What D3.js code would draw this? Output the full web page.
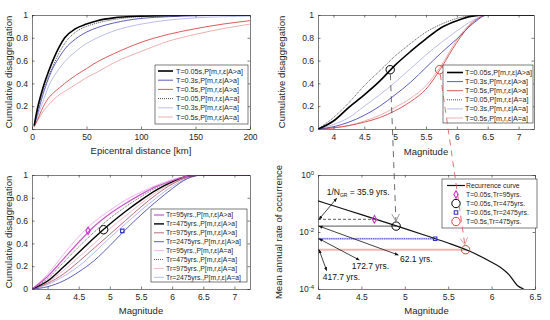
<!DOCTYPE html>
<html>
<head>
<meta charset="utf-8">
<script src="https://cdn.jsdelivr.net/npm/d3@7"></script>
<style>
  body { margin: 0; background: #fff; }
  svg { display: block; font-family: "Liberation Sans", Arial, Helvetica, sans-serif; }
</style>
</head>
<body>
<svg id="fig" width="550" height="320"></svg>
<script>
/* ---------- data: distance disaggregation (top left) ---------- */
const distKm   = [2, 5, 10, 15, 20, 25, 30, 40, 50, 60, 75, 100, 125, 150, 175, 200];
const dT005Exc = [0.03, 0.18, 0.36, 0.50, 0.62, 0.72, 0.80, 0.88, 0.92, 0.95, 0.975, 0.99, 0.995, 1, 1, 1];
const dT03Exc  = [0.03, 0.13, 0.30, 0.44, 0.55, 0.63, 0.70, 0.79, 0.85, 0.89, 0.93, 0.97, 0.985, 0.993, 0.997, 1];
const dT05Exc  = [0.02, 0.08, 0.19, 0.27, 0.32, 0.36, 0.40, 0.47, 0.53, 0.59, 0.66, 0.76, 0.83, 0.88, 0.92, 0.95];
const dT005Eq  = [0.03, 0.16, 0.33, 0.46, 0.57, 0.67, 0.75, 0.85, 0.90, 0.93, 0.96, 0.985, 0.993, 0.997, 1, 1];
const dT03Eq   = [0.03, 0.11, 0.24, 0.37, 0.46, 0.53, 0.59, 0.68, 0.75, 0.80, 0.86, 0.92, 0.955, 0.975, 0.985, 0.99];
const dT05Eq   = [0.02, 0.07, 0.15, 0.21, 0.26, 0.30, 0.33, 0.39, 0.45, 0.50, 0.58, 0.68, 0.77, 0.83, 0.88, 0.92];

/* ---------- data: magnitude disaggregation by period (top right) ---------- */
const mags     = [3.75, 4, 4.25, 4.5, 4.75, 5, 5.25, 5.5, 5.75, 6, 6.25, 6.5, 7.25];
const mT005Exc = [0, 0.07, 0.19, 0.30, 0.42, 0.56, 0.68, 0.79, 0.89, 0.95, 0.99, 1, 1];
const mT03Exc  = [0, 0.02, 0.06, 0.12, 0.20, 0.30, 0.41, 0.54, 0.67, 0.79, 0.92, 1, 1];
const mT05Exc  = [0, 0.01, 0.03, 0.06, 0.10, 0.16, 0.24, 0.35, 0.54, 0.76, 0.93, 1, 1];
const mT005Eq  = [0, 0.10, 0.23, 0.38, 0.51, 0.64, 0.75, 0.85, 0.92, 0.97, 0.995, 1, 1];
const mT03Eq   = [0, 0.04, 0.10, 0.20, 0.30, 0.41, 0.53, 0.65, 0.76, 0.86, 0.95, 1, 1];
const mT05Eq   = [0, 0.01, 0.03, 0.07, 0.12, 0.19, 0.27, 0.38, 0.56, 0.78, 0.94, 1, 1];
const periodLabels = ["T=0.05s,P[m,r,ε|A>a]", "T=0.3s,P[m,r,ε|A>a]", "T=0.5s,P[m,r,ε|A>a]",
                      "T=0.05,P[m,r,ε|A=a]", "T=0.3s,P[m,r,ε|A=a]", "T=0.5s,P[m,r,ε|A=a]"];
const topMarkMag = [4.92, 5.72];
const topMarkP   = [0.52, 0.52];

/* ---------- data: magnitude disaggregation by return period (bottom left) ---------- */
const tr95Exc   = [0, 0.11, 0.26, 0.41, 0.55, 0.66, 0.75, 0.83, 0.90, 0.95, 0.99, 1, 1];
const tr475Exc  = [0, 0.07, 0.19, 0.32, 0.45, 0.57, 0.68, 0.78, 0.87, 0.94, 0.99, 1, 1];
const tr975Exc  = [0, 0.05, 0.13, 0.24, 0.36, 0.48, 0.60, 0.72, 0.83, 0.92, 0.98, 1, 1];
const tr2475Exc = [0, 0.02, 0.07, 0.15, 0.25, 0.38, 0.52, 0.65, 0.77, 0.88, 0.97, 1, 1];
const tr95Eq    = [0, 0.13, 0.30, 0.46, 0.59, 0.69, 0.78, 0.85, 0.91, 0.96, 0.99, 1, 1];
const tr475Eq   = [0, 0.09, 0.23, 0.37, 0.50, 0.62, 0.72, 0.81, 0.89, 0.95, 0.99, 1, 1];
const tr975Eq   = [0, 0.06, 0.16, 0.28, 0.40, 0.53, 0.64, 0.75, 0.85, 0.93, 0.98, 1, 1];
const tr2475Eq  = [0, 0.04, 0.11, 0.20, 0.32, 0.45, 0.57, 0.69, 0.80, 0.90, 0.97, 1, 1];
const trLabels = ["Tr=95yrs.,P[m,r,ε|A>a]", "Tr=475yrs.,P[m,r,ε|A>a]", "Tr=975yrs.,P[m,r,ε|A>a]", "Tr=2475yrs.,P[m,r,ε|A>a]",
                  "Tr=95yrs.,P[m,r,ε|A=a]", "Tr=475yrs.,P[m,r,ε|A=a]", "Tr=975yrs.,P[m,r,ε|A=a]", "Tr=2475yrs.,P[m,r,ε|A=a]"];
const trMarkMag = [4.65, 4.9, 5.2];
const trMarkP   = [0.51, 0.52, 0.51];

/* ---------- data: recurrence curve (bottom right) ---------- */
const recurMag  = [4.0, 4.25, 4.5, 4.75, 5.0, 5.25, 5.5, 5.75, 6.0, 6.1, 6.2, 6.3, 6.37];
const recurRate = [0.123, 0.0707, 0.0407, 0.0232, 0.0132, 0.0074, 0.0041, 0.0021, 0.00087, 0.00058, 0.00032, 0.00013, 0.0001];
const hazMag    = [4.65, 4.9, 5.35, 5.7];
const hazYears  = [35.9, 62.1, 172.7, 417.7];
const hazLabels = ["Recurrence curve", "T=0.05s,Tr=95yrs.", "T=0.05s,Tr=475yrs.", "T=0.05s,Tr=2475yrs.", "T=0.5s,Tr=475yrs."];

/* ---------- layout ---------- */
const INK = "#262626";
const FONT = '"Liberation Sans", Arial, Helvetica, sans-serif';
const svg = d3.select("#fig");
const defs = svg.append("defs");

const P1 = {l: 32,  r: 250, t: 15,  b: 129};
const P2 = {l: 318, r: 534, t: 15,  b: 129};
const P3 = {l: 32,  r: 250, t: 175, b: 289};
const P4 = {l: 318, r: 535, t: 175, b: 289};

const x1 = d3.scaleLinear().domain([0, 200]).range([P1.l, P1.r]);
const y1 = d3.scaleLinear().domain([0, 1]).range([P1.b, P1.t]);
const x2 = d3.scaleLinear().domain([3.75, 7.25]).range([P2.l, P2.r]);
const y2 = d3.scaleLinear().domain([0, 1]).range([P2.b, P2.t]);
const x3 = d3.scaleLinear().domain([3.75, 7.25]).range([P3.l, P3.r]);
const y3 = d3.scaleLinear().domain([0, 1]).range([P3.b, P3.t]);
const x4 = d3.scaleLinear().domain([4, 6.5]).range([P4.l, P4.r]);
const y4 = d3.scaleLog().domain([1e-4, 1]).range([P4.b, P4.t]);

// arrow head for annotations
defs.append("marker").attr("id", "ah").attr("viewBox", "0 0 10 10")
  .attr("refX", 9).attr("refY", 5).attr("markerWidth", 5).attr("markerHeight", 5)
  .attr("orient", "auto-start-reverse")
  .append("path").attr("d", "M0,1 L10,5 L0,9 z").attr("fill", "#111");

function panel(id, P) {
  defs.append("clipPath").attr("id", id).append("rect")
    .attr("x", P.l).attr("y", P.t).attr("width", P.r - P.l).attr("height", P.b - P.t);
  const g = svg.append("g");
  g.append("rect").attr("x", P.l).attr("y", P.t).attr("width", P.r - P.l).attr("height", P.b - P.t)
    .attr("fill", "#fff");
  const plot = g.append("g").attr("clip-path", `url(#${id})`);
  return {g, plot};
}

function axes(g, P, x, y, xTicks, yTicks, xFmt, yFmt) {
  const style = (a, keepText) => {
    a.attr("font-family", FONT).attr("font-size", 8.5);
    a.select(".domain").attr("stroke", INK).attr("stroke-width", 0.6);
    a.selectAll(".tick line").attr("stroke", INK).attr("stroke-width", 0.6);
    a.selectAll(".tick text").attr("fill", INK);
    if (!keepText) a.selectAll(".tick text").remove();
    return a;
  };
  style(g.append("g").attr("transform", `translate(0,${P.b})`)
    .call(d3.axisBottom(x).tickValues(xTicks).tickFormat(xFmt).tickSizeInner(-2.5).tickSizeOuter(0).tickPadding(5)), true);
  style(g.append("g").attr("transform", `translate(0,${P.t})`)
    .call(d3.axisTop(x).tickValues(xTicks).tickSizeInner(-2.5).tickSizeOuter(0)), false);
  const left = style(g.append("g").attr("transform", `translate(${P.l},0)`)
    .call(d3.axisLeft(y).tickValues(yTicks).tickFormat(yFmt).tickSizeInner(-2.5).tickSizeOuter(0).tickPadding(4)), true);
  style(g.append("g").attr("transform", `translate(${P.r},0)`)
    .call(d3.axisRight(y).tickValues(yTicks).tickSizeInner(-2.5).tickSizeOuter(0)), false);
  return left;
}

function labels(g, P, xText, yText, xBase, yCx) {
  g.append("text").attr("x", (P.l + P.r) / 2).attr("y", xBase).attr("text-anchor", "middle")
    .attr("font-size", 9.5).attr("fill", INK).text(xText);
  g.append("text").attr("transform", `translate(${yCx},${(P.t + P.b) / 2}) rotate(-90)`)
    .attr("text-anchor", "middle").attr("dy", "0.35em")
    .attr("font-size", 9.5).attr("fill", INK).text(yText);
}

function curve(plot, x, y, xs, ys, st) {
  plot.append("path").datum(d3.zip(xs, ys))
    .attr("d", d3.line().x(d => x(d[0])).y(d => y(d[1])).curve(d3.curveMonotoneX))
    .attr("fill", "none").attr("stroke", st.c).attr("stroke-width", st.w)
    .attr("stroke-dasharray", st.d || null);
}

function symbol(g, kind, cx, cy, color) {
  if (kind === "circle") {
    g.append("circle").attr("cx", cx).attr("cy", cy).attr("r", 4.2)
      .attr("fill", "none").attr("stroke", color).attr("stroke-width", 1);
  } else {
    const t = kind === "diamond" ? d3.symbolDiamond : d3.symbolSquare;
    g.append("path").attr("transform", `translate(${cx},${cy})`)
      .attr("d", d3.symbol(t, kind === "diamond" ? 16 : 12)())
      .attr("fill", "none").attr("stroke", color).attr("stroke-width", 1.1);
  }
}

function legend(g, box, items, o) {
  g.append("rect").attr("x", box[0]).attr("y", box[1])
    .attr("width", box[2] - box[0]).attr("height", box[3] - box[1])
    .attr("fill", "#fff").attr("stroke", INK).attr("stroke-width", 0.6);
  items.forEach((it, i) => {
    const yy = o.y0 + i * o.dy;
    if (it.sym) symbol(g, it.sym, (o.lx0 + o.lx1) / 2, yy, it.c);
    else g.append("line").attr("x1", o.lx0).attr("x2", o.lx1).attr("y1", yy).attr("y2", yy)
      .attr("stroke", it.c).attr("stroke-width", it.w).attr("stroke-dasharray", it.d || null);
    g.append("text").attr("x", o.tx).attr("y", yy).attr("dy", "0.35em")
      .attr("font-size", o.fs).attr("fill", INK).text(it.label);
  });
}

const periodStyles = [
  {c: "#000000", w: 1.6}, {c: "#4b4bb4", w: 0.9}, {c: "#d64848", w: 0.9},
  {c: "#222222", w: 0.8, d: "1,1"}, {c: "#b4b4ea", w: 0.9}, {c: "#eeb0b0", w: 1}
];
const yTicks01 = [0, 0.2, 0.4, 0.6, 0.8, 1];
const fmt01 = d => d === 0 || d === 1 ? String(d) : d.toFixed(1);
const magTicks = [4, 4.5, 5, 5.5, 6, 6.5, 7];

/* ---------- panel 1: epicentral distance ---------- */
{
  const {g, plot} = panel("c1", P1);
  const ser = [dT005Exc, dT03Exc, dT05Exc, dT005Eq, dT03Eq, dT05Eq];
  [5, 4, 3, 2, 1, 0].forEach(i => curve(plot, x1, y1, distKm, ser[i], periodStyles[i]));
  axes(g, P1, x1, y1, [0, 50, 100, 150, 200], yTicks01, d3.format("d"), fmt01);
  labels(g, P1, "Epicentral distance [km]", "Cumulative disaggregation", 153.5, 8.5);
  legend(g, [155, 65, 248, 124], periodLabels.map((l, i) => ({label: l, ...periodStyles[i]})),
    {lx0: 158, lx1: 173, tx: 176, y0: 71, dy: 9.2, fs: 7.2});
}

/* ---------- panel 2: magnitude by period ---------- */
{
  const {g, plot} = panel("c2", P2);
  const ser = [mT005Exc, mT03Exc, mT05Exc, mT005Eq, mT03Eq, mT05Eq];
  [5, 4, 3, 2, 1, 0].forEach(i => curve(plot, x2, y2, mags, ser[i], periodStyles[i]));
  ["#000000", "#e03c3c"].forEach((c, i) => symbol(plot, "circle", x2(topMarkMag[i]), y2(topMarkP[i]), c));
  axes(g, P2, x2, y2, magTicks, yTicks01, d3.format("~g"), fmt01);
  labels(g, P2, "Magnitude", "Cumulative disaggregation", 155, 282);
  legend(g, [443, 65, 533, 123], periodLabels.map((l, i) => ({label: l, ...periodStyles[i]})),
    {lx0: 447, lx1: 463, tx: 465, y0: 72.5, dy: 9.1, fs: 7.2});
}

/* ---------- panel 3: magnitude by return period ---------- */
{
  const {g, plot} = panel("c3", P3);
  const trStyles = [
    {c: "#cc55cc", w: 1.2}, {c: "#000000", w: 1.4}, {c: "#b45a6e", w: 0.9}, {c: "#4b4bb4", w: 0.9},
    {c: "#efb4ef", w: 1}, {c: "#333333", w: 0.8, d: "1,1"}, {c: "#eebbc4", w: 1}, {c: "#b8b8ea", w: 1}
  ];
  const ser = [tr95Exc, tr475Exc, tr975Exc, tr2475Exc, tr95Eq, tr475Eq, tr975Eq, tr2475Eq];
  [7, 6, 5, 4, 3, 2, 1, 0].forEach(i => curve(plot, x3, y3, mags, ser[i], trStyles[i]));
  ["diamond", "circle", "square"].forEach((k, i) =>
    symbol(plot, k, x3(trMarkMag[i]), y3(trMarkP[i]), ["#cc33cc", "#000000", "#3333cc"][i]));
  axes(g, P3, x3, y3, magTicks, yTicks01, d3.format("~g"), fmt01);
  labels(g, P3, "Magnitude", "Cumulative disaggregation", 313.5, 8.5);
  legend(g, [151, 209, 247, 282], trLabels.map((l, i) => ({label: l, ...trStyles[i]})),
    {lx0: 154, lx1: 164, tx: 166, y0: 215, dy: 8.9, fs: 6.8});
}

/* ---------- panel 4: recurrence curve ---------- */
{
  const {g, plot} = panel("c4", P4);
  const hazStyles = [
    {c: "#333333", w: 0.8, d: "3,2"}, {c: "#555555", w: 1},
    {c: "#4a4ad0", w: 1.2, d: "1.2,1"}, {c: "#f2b4b4", w: 2}
  ];
  plot.append("line").attr("x1", x4(4)).attr("x2", x4(hazMag[2]))
    .attr("y1", y4(1 / hazYears[2])).attr("y2", y4(1 / hazYears[2]))
    .attr("stroke", "#c8c8f2").attr("stroke-width", 2.2);
  hazMag.forEach((m, i) => plot.append("line")
    .attr("x1", x4(4)).attr("x2", x4(m)).attr("y1", y4(1 / hazYears[i])).attr("y2", y4(1 / hazYears[i]))
    .attr("stroke", hazStyles[i].c).attr("stroke-width", hazStyles[i].w)
    .attr("stroke-dasharray", hazStyles[i].d || null));
  curve(plot, x4, y4, recurMag, recurRate, {c: "#111111", w: 1.2});
  const syms = ["diamond", "circle", "square", "circle"];
  const symCol = ["#cc33cc", "#000000", "#3333cc", "#e03c3c"];
  hazMag.forEach((m, i) => symbol(plot, syms[i], x4(m), y4(1 / hazYears[i]), symCol[i]));

  const left = axes(g, P4, x4, y4, [4, 4.5, 5, 5.5, 6, 6.5], [1e-4, 1e-2, 1], d3.format("~g"), () => "");
  left.selectAll(".tick text").each(function (d) {
    const t = d3.select(this).text("10");
    t.append("tspan").attr("dy", "-0.5em").attr("font-size", 6).text(Math.round(Math.log10(d)));
  });
  labels(g, P4, "Magnitude", "Mean annual rate of occurrence", 313.5, 278.5);

  // double-headed annotation arrows (from the rate axis to the labels)
  const arrowEnds = [[4.215, 0.152], [4.925, 0.00156], [4.476, 0.00104], [4.10, 0.00044]];
  hazYears.forEach((yr, i) => g.append("line")
    .attr("x1", x4(4) + 1).attr("y1", y4(1 / yr))
    .attr("x2", x4(arrowEnds[i][0])).attr("y2", y4(arrowEnds[i][1]))
    .attr("stroke", "#111").attr("stroke-width", 0.8)
    .attr("marker-start", "url(#ah)").attr("marker-end", "url(#ah)"));
  const tagPos = [[4.10, 0.194], [4.945, 0.00089], [4.388, 0.00051], [4.054, 0.000202]];
  hazYears.forEach((yr, i) => {
    const t = g.append("text").attr("x", x4(tagPos[i][0])).attr("y", y4(tagPos[i][1]))
      .attr("font-size", 8.5).attr("fill", "#111");
    if (i === 0) {
      t.append("tspan").text("1/N");
      t.append("tspan").attr("font-size", 5).attr("dy", 2).text("GR");
      t.append("tspan").attr("dy", -2).text(` = ${yr} yrs.`);
    } else t.text(`${yr} yrs.`);
  });

  legend(g, [442, 179, 537, 228], hazLabels.map((l, i) => i === 0
      ? {label: l, c: "#111", w: 1.2}
      : {label: l, sym: syms[i - 1], c: symCol[i - 1]}),
    {lx0: 447, lx1: 465, tx: 466, y0: 185.5, dy: 9, fs: 6.8});
}

/* ---------- dashed connectors between top-right and bottom-right ---------- */
[[0, 1, "#444444", "#8a8a8a"], [1, 3, "#d65050", "#e89a9a"]].forEach(([a, b, c, vc]) => {
  const p = [x2(topMarkMag[a]), y2(topMarkP[a])];
  const q = [x4(hazMag[b]), y4(1 / hazYears[b])];
  const len = Math.hypot(q[0] - p[0], q[1] - p[1]);
  const u = [(q[0] - p[0]) / len, (q[1] - p[1]) / len];
  const s = [p[0] + u[0] * 4.5, p[1] + u[1] * 4.5];
  const e = [q[0] - u[0] * 5, q[1] - u[1] * 5];
  svg.append("line").attr("x1", s[0]).attr("y1", s[1]).attr("x2", e[0]).attr("y2", e[1])
    .attr("stroke", c).attr("stroke-width", 0.8).attr("stroke-dasharray", "6,5");
  const ang = Math.atan2(-u[1], -u[0]);
  const arm = t => [e[0] + 8 * Math.cos(ang + t), e[1] + 8 * Math.sin(ang + t)];
  const l = arm(0.5), r = arm(-0.5);
  svg.append("path").attr("d", `M${l[0]},${l[1]} L${e[0]},${e[1]} L${r[0]},${r[1]}`)
    .attr("fill", "none").attr("stroke", vc).attr("stroke-width", 0.9);
});
</script>
</body>
</html>
